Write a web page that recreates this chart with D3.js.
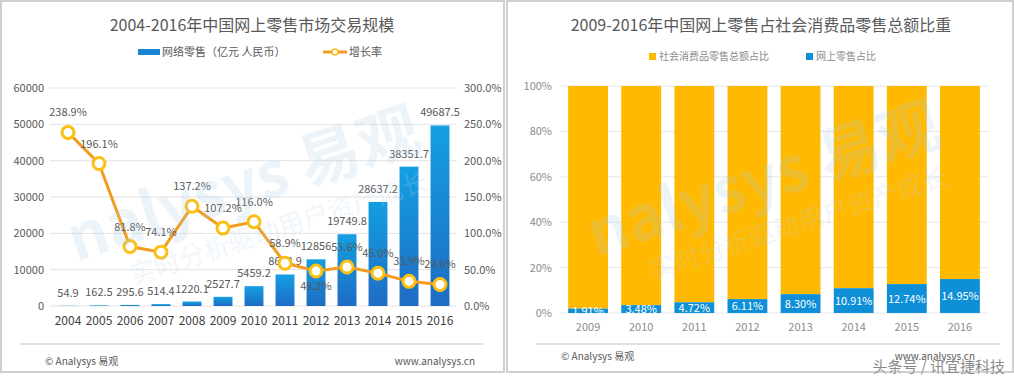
<!DOCTYPE html>
<html>
<head>
<meta charset="utf-8">
<script src="https://cdn.jsdelivr.net/npm/d3@7"></script>
<style>
  body { margin: 0; background: #fff; }
  svg { display: block; font-family: "Noto Sans CJK SC", "Noto Sans", sans-serif; }
</style>
</head>
<body>
<svg id="main_svg" width="1014" height="377"></svg>
<script>
// left chart data
const years = ['2004', '2005', '2006', '2007', '2008', '2009', '2010', '2011', '2012', '2013', '2014', '2015', '2016'];
const retail = [54.9, 162.5, 295.6, 514.4, 1220.1, 2527.7, 5459.2, 8673.9, 12856, 19749.8, 28637.2, 38351.7, 49687.5];
const growth = [238.9, 196.1, 81.8, 74.1, 137.2, 107.2, 116.0, 58.9, 48.2, 53.6, 45.0, 33.9, 29.6];
const leftTicks = [0, 10000, 20000, 30000, 40000, 50000, 60000];
const rightTicks = [0, 50, 100, 150, 200, 250, 300];

// right chart data
const shareYears = ['2009', '2010', '2011', '2012', '2013', '2014', '2015', '2016'];
const onlineShare = [1.91, 3.48, 4.72, 6.11, 8.30, 10.91, 12.74, 14.95];
const shareTicks = [0, 20, 40, 60, 80, 100];

const svg = d3.select('#main_svg');
const grey = '#595959';

// panel borders
svg.append('rect').attr('x', 1).attr('y', 1).attr('width', 503).attr('height', 371)
  .style('fill', 'none').style('stroke', '#d0d0d0').style('stroke-width', 2);
svg.append('rect').attr('x', 507).attr('y', 1).attr('width', 506).attr('height', 371)
  .style('fill', 'none').style('stroke', '#d0d0d0').style('stroke-width', 2);

// gradient for the blue bars
let defs = svg.append('defs');
let grad = defs.append('linearGradient').attr('id', 'bar_grad')
  .attr('x1', 0).attr('y1', 0).attr('x2', 0).attr('y2', 1);
grad.append('stop').attr('offset', '0%').attr('stop-color', '#149fe2');
grad.append('stop').attr('offset', '100%').attr('stop-color', '#1e6cc3');

// watermark helper
function watermark(cx, cy) {
  let g = svg.append('g')
    .attr('transform', 'translate(' + cx + ',' + cy + ') rotate(-18)')
    .style('opacity', 0.2);
  g.append('text').attr('x', 0).attr('y', 0)
    .attr('text-anchor', 'middle')
    .style('font-size', '62px').style('font-weight', 'bold')
    .style('fill', '#a9cde6')
    .text('nalysys 易观');
  g.append('text').attr('x', 20).attr('y', 40)
    .attr('text-anchor', 'middle')
    .style('font-size', '26px')
    .style('fill', '#b9d7ec')
    .text('实时分析驱动用户资产成长');
}

//////////////////////////
// left chart
//////////////////////////
svg.append('text').attr('x', 252).attr('y', 31).attr('text-anchor', 'middle')
  .style('font-size', '16px').style('fill', grey)
  .text('2004-2016年中国网上零售市场交易规模');

// legend
svg.append('rect').attr('x', 138).attr('y', 49).attr('width', 22).attr('height', 6)
  .style('fill', '#1a86d4');
svg.append('text').attr('x', 162).attr('y', 56)
  .style('font-size', '11px').style('fill', grey).text('网络零售（亿元 人民币）');
svg.append('line').attr('x1', 323).attr('x2', 347).attr('y1', 52).attr('y2', 52)
  .style('stroke', '#f39c1f').style('stroke-width', 3);
svg.append('circle').attr('cx', 335).attr('cy', 52).attr('r', 3)
  .style('fill', '#fff').style('stroke', '#fcc012').style('stroke-width', 1.5);
svg.append('text').attr('x', 349).attr('y', 56)
  .style('font-size', '11px').style('fill', grey).text('增长率');

let x = d3.scaleBand().domain(years).range([52.5, 455.5]).paddingInner(0.39).paddingOuter(0.195);
let y = d3.scaleLinear().domain([0, 60000]).range([306, 88]);
let y2 = d3.scaleLinear().domain([0, 300]).range([306, 88]);

let leftG = svg.append('g');

// gridlines
leftG.selectAll('.horz_lines').data(leftTicks).enter().append('line')
  .attr('class', 'horz_lines')
  .attr('x1', 50).attr('x2', 457)
  .attr('y1', d => y(d)).attr('y2', d => y(d))
  .style('stroke', '#e3e3e3').style('stroke-width', 1);

watermark(250, 205);

// left axis
let yAxis = leftG.append('g').attr('transform', 'translate(44,0)')
  .call(d3.axisLeft(y).tickValues(leftTicks).tickSize(0).tickPadding(0)
    .tickFormat(d3.format('d')));
yAxis.select('.domain').remove();
yAxis.selectAll('text').style('font-size', '11px').style('fill', grey)
  .style('font-family', '"Noto Sans CJK SC", sans-serif');

// right axis
let y2Axis = leftG.append('g').attr('transform', 'translate(464,0)')
  .call(d3.axisRight(y2).tickValues(rightTicks).tickSize(0).tickPadding(0)
    .tickFormat(d => d.toFixed(1) + '%'));
y2Axis.select('.domain').remove();
y2Axis.selectAll('text').style('font-size', '11px').style('fill', grey)
  .style('font-family', '"Noto Sans CJK SC", sans-serif');

// x axis
let xAxis = leftG.append('g').attr('transform', 'translate(0,306)')
  .call(d3.axisBottom(x).tickSize(0).tickPadding(10));
xAxis.select('.domain').remove();
xAxis.selectAll('text').style('font-size', '12px').style('fill', '#404040')
  .style('font-family', '"Noto Sans CJK SC", sans-serif');

// bars
leftG.selectAll('.tile').data(retail).enter().append('rect')
  .attr('class', 'tile')
  .attr('x', (d, i) => x(years[i]))
  .attr('width', x.bandwidth())
  .attr('y', d => y(d))
  .attr('height', d => y(0) - y(d))
  .style('fill', 'url(#bar_grad)');

// bar labels
leftG.selectAll('.bar_label').data(retail).enter().append('text')
  .attr('class', 'bar_label')
  .attr('x', (d, i) => x(years[i]) + x.bandwidth() / 2)
  .attr('y', d => y(d) - 9)
  .attr('text-anchor', 'middle')
  .style('font-size', '11px').style('fill', grey)
  .text(d => d);

// growth line
let line = d3.line()
  .x((d, i) => x(years[i]) + x.bandwidth() / 2)
  .y(d => y2(d));
leftG.append('path').datum(growth)
  .attr('d', line)
  .style('fill', 'none').style('stroke', '#f39c1f').style('stroke-width', 3);

leftG.selectAll('.dot').data(growth).enter().append('circle')
  .attr('class', 'dot')
  .attr('cx', (d, i) => x(years[i]) + x.bandwidth() / 2)
  .attr('cy', d => y2(d))
  .attr('r', 6)
  .style('fill', '#fff').style('stroke', '#fcc012').style('stroke-width', 3);

// growth labels, one below the point where it would hit the bar label
leftG.selectAll('.growth_label').data(growth).enter().append('text')
  .attr('class', 'growth_label')
  .attr('x', (d, i) => x(years[i]) + x.bandwidth() / 2)
  .attr('y', (d, i) => y2(d) + (years[i] === '2012' ? 19 : -16))
  .attr('text-anchor', 'middle')
  .style('font-size', '11px').style('fill', grey)
  .text(d => d.toFixed(1) + '%');

// footer
svg.append('line').attr('x1', 20).attr('x2', 483).attr('y1', 344).attr('y2', 344)
  .style('stroke', '#e0e0e0').style('stroke-width', 2);
svg.append('text').attr('x', 45).attr('y', 365)
  .style('font-size', '10px').style('fill', grey).text('© Analysys 易观');
svg.append('text').attr('x', 475).attr('y', 365).attr('text-anchor', 'end')
  .style('font-size', '10px').style('fill', grey).text('www.analysys.cn');

//////////////////////////
// right chart
//////////////////////////
svg.append('text').attr('x', 761).attr('y', 31).attr('text-anchor', 'middle')
  .style('font-size', '16px').style('fill', grey)
  .text('2009-2016年中国网上零售占社会消费品零售总额比重');

svg.append('rect').attr('x', 649).attr('y', 53).attr('width', 7).attr('height', 7)
  .style('fill', '#ffb900');
svg.append('text').attr('x', 659).attr('y', 60)
  .style('font-size', '10px').style('fill', '#8c8c8c').text('社会消费品零售总额占比');
svg.append('rect').attr('x', 806).attr('y', 53).attr('width', 7).attr('height', 7)
  .style('fill', '#0e8fd8');
svg.append('text').attr('x', 816).attr('y', 60)
  .style('font-size', '10px').style('fill', '#8c8c8c').text('网上零售占比');

let xs = d3.scaleBand().domain(shareYears).range([561.5, 986.5]).paddingInner(0.25).paddingOuter(0.125);
let ys = d3.scaleLinear().domain([0, 100]).range([313, 86]);

let rightG = svg.append('g');

rightG.selectAll('.share_grid').data(shareTicks).enter().append('line')
  .attr('class', 'share_grid')
  .attr('x1', 561).attr('x2', 988)
  .attr('y1', d => ys(d)).attr('y2', d => ys(d))
  .style('stroke', '#e6e6e6').style('stroke-width', 1);

let ysAxis = rightG.append('g').attr('transform', 'translate(552,0)')
  .call(d3.axisLeft(ys).tickValues(shareTicks).tickSize(0).tickPadding(0)
    .tickFormat(d => d + '%'));
ysAxis.select('.domain').remove();
ysAxis.selectAll('text').style('font-size', '11px').style('fill', '#8c8c8c')
  .style('font-family', '"Noto Sans CJK SC", sans-serif');

let xsAxis = rightG.append('g').attr('transform', 'translate(0,313)')
  .call(d3.axisBottom(xs).tickSize(0).tickPadding(10));
xsAxis.select('.domain').remove();
xsAxis.selectAll('text').style('font-size', '11px').style('fill', '#8c8c8c')
  .style('font-family', '"Noto Sans CJK SC", sans-serif');

// stacked bars: offline share on top of online share
rightG.selectAll('.share_rest').data(onlineShare).enter().append('rect')
  .attr('class', 'share_rest')
  .attr('x', (d, i) => xs(shareYears[i]))
  .attr('width', xs.bandwidth())
  .attr('y', ys(100))
  .attr('height', d => ys(d) - ys(100))
  .style('fill', '#ffb900');

rightG.selectAll('.share_online').data(onlineShare).enter().append('rect')
  .attr('class', 'share_online')
  .attr('x', (d, i) => xs(shareYears[i]))
  .attr('width', xs.bandwidth())
  .attr('y', d => ys(d))
  .attr('height', d => ys(0) - ys(d))
  .style('fill', '#0e8fd8');

watermark(770, 200);

rightG.selectAll('.share_label').data(onlineShare).enter().append('text')
  .attr('class', 'share_label')
  .attr('x', (d, i) => xs(shareYears[i]) + xs.bandwidth() / 2)
  .attr('y', d => (ys(d) + ys(0)) / 2 + 4)
  .attr('text-anchor', 'middle')
  .style('font-size', '11px').style('fill', '#fff')
  .text(d => d.toFixed(2) + '%');

svg.append('line').attr('x1', 536).attr('x2', 1000).attr('y1', 344).attr('y2', 344)
  .style('stroke', '#e0e0e0').style('stroke-width', 2);
svg.append('text').attr('x', 561).attr('y', 360)
  .style('font-size', '10px').style('fill', grey).text('© Analysys 易观');
svg.append('text').attr('x', 975).attr('y', 360).attr('text-anchor', 'end')
  .style('font-size', '10px').style('fill', grey).text('www.analysys.cn');

// repost watermark
svg.append('text').attr('x', 1005).attr('y', 372).attr('text-anchor', 'end')
  .style('font-size', '15px').style('fill', '#8a8a8a')
  .style('stroke', '#fff').style('stroke-width', 0.6).style('paint-order', 'stroke')
  .text('头条号 / 讯宜捷科技');
</script>
</body>
</html>
